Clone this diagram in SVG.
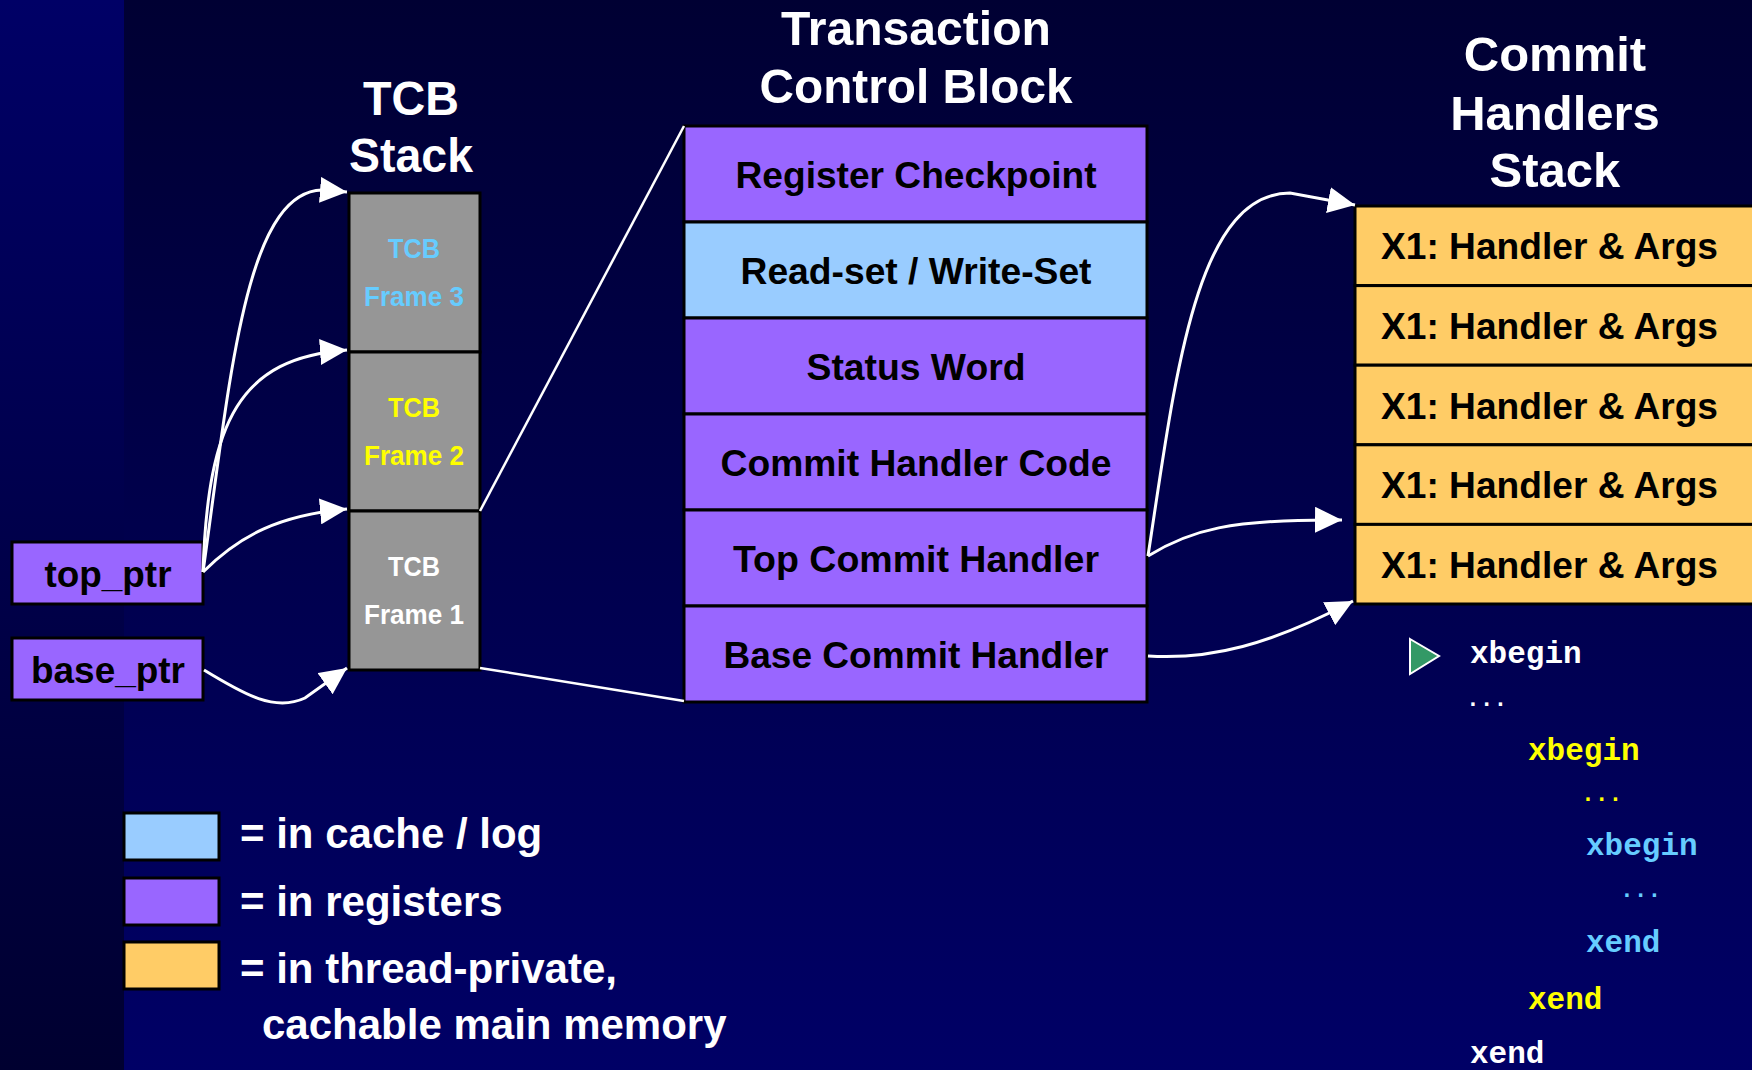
<svg xmlns="http://www.w3.org/2000/svg" width="1752" height="1070" viewBox="0 0 1752 1070">
<defs>
<linearGradient id="bgMain" x1="0" y1="0" x2="0" y2="1">
<stop offset="0" stop-color="#000033"/>
<stop offset="1" stop-color="#000066"/>
</linearGradient>
<linearGradient id="bgLeft" x1="0" y1="0" x2="0" y2="1">
<stop offset="0" stop-color="#000066"/>
<stop offset="1" stop-color="#000030"/>
</linearGradient>
<marker id="arrow" markerUnits="userSpaceOnUse" markerWidth="28" markerHeight="26" refX="27" refY="13" orient="auto">
<path d="M0,0 L27,13 L0,26 z" fill="#ffffff"/>
</marker>
</defs>
<style>
.bx{stroke:#000;stroke-width:3}
.pu{fill:#9966FF}
.lb{fill:#99CCFF}
.or{fill:#FFCC66}
.gr{fill:#969696}
.lbl{font-family:"Liberation Sans",Arial,sans-serif;font-weight:bold;fill:#000;font-size:36px;text-anchor:middle}
.hl{font-family:"Liberation Sans",Arial,sans-serif;font-weight:bold;fill:#000;font-size:36px}
.ttl{font-family:"Liberation Sans",Arial,sans-serif;font-weight:bold;fill:#fff;font-size:49px;text-anchor:middle}
.fr{font-family:"Liberation Sans",Arial,sans-serif;font-weight:bold;font-size:28px;text-anchor:middle}
.leg{font-family:"Liberation Sans",Arial,sans-serif;font-weight:bold;fill:#fff;font-size:42px}
.code{font-family:"Liberation Mono","Courier New",monospace;font-weight:bold;font-size:31px}
.dots{font-family:"Liberation Mono","Courier New",monospace;font-weight:bold;font-size:23px}
.conn{fill:none;stroke:#fff;stroke-width:3}
.ln{fill:none;stroke:#fff;stroke-width:2.5}
</style>
<rect x="0" y="0" width="1752" height="1070" fill="url(#bgMain)"/>
<rect x="0" y="0" width="124" height="1070" fill="url(#bgLeft)"/>

<g id="title-tcb-stack">
<text class="ttl" x="411" y="115" font-size="50" textLength="96" lengthAdjust="spacingAndGlyphs">TCB</text>
<text class="ttl" x="411" y="172" font-size="50" textLength="124" lengthAdjust="spacingAndGlyphs">Stack</text>
</g>
<g id="title-tcb">
<text class="ttl" x="916" y="45" textLength="270" lengthAdjust="spacingAndGlyphs">Transaction</text>
<text class="ttl" x="916" y="103" textLength="313" lengthAdjust="spacingAndGlyphs">Control Block</text>
</g>
<g id="title-chs">
<text class="ttl" x="1555" y="71">Commit</text>
<text class="ttl" x="1555" y="130">Handlers</text>
<text class="ttl" x="1555" y="187">Stack</text>
</g>

<g id="top_ptr">
<rect class="bx pu" x="12" y="542" width="191" height="62"/>
<text class="lbl" x="108" y="587" textLength="127" lengthAdjust="spacingAndGlyphs">top_ptr</text>
</g>
<g id="base_ptr">
<rect class="bx pu" x="12" y="638" width="191" height="62"/>
<text class="lbl" x="108" y="683" textLength="154" lengthAdjust="spacingAndGlyphs">base_ptr</text>
</g>

<g id="tcb-frame-3">
<rect class="bx gr" x="349" y="193" width="131" height="159"/>
<text class="fr" x="414" y="258" fill="#66CCFF" textLength="52" lengthAdjust="spacingAndGlyphs">TCB</text>
<text class="fr" x="414" y="306" fill="#66CCFF" textLength="100" lengthAdjust="spacingAndGlyphs">Frame 3</text>
</g>
<g id="tcb-frame-2">
<rect class="bx gr" x="349" y="352" width="131" height="159"/>
<text class="fr" x="414" y="417" fill="#FFFF00" textLength="52" lengthAdjust="spacingAndGlyphs">TCB</text>
<text class="fr" x="414" y="465" fill="#FFFF00" textLength="100" lengthAdjust="spacingAndGlyphs">Frame 2</text>
</g>
<g id="tcb-frame-1">
<rect class="bx gr" x="349" y="511" width="131" height="159"/>
<text class="fr" x="414" y="576" fill="#FFFFFF" textLength="52" lengthAdjust="spacingAndGlyphs">TCB</text>
<text class="fr" x="414" y="624" fill="#FFFFFF" textLength="100" lengthAdjust="spacingAndGlyphs">Frame 1</text>
</g>

<g id="tcb-register-checkpoint">
<rect class="bx pu" x="684" y="126" width="463" height="96"/>
<text class="lbl" x="916" y="188" textLength="361" lengthAdjust="spacingAndGlyphs">Register Checkpoint</text>
</g>
<g id="tcb-read-write-set">
<rect class="bx lb" x="684" y="222" width="463" height="96"/>
<text class="lbl" x="916" y="284" textLength="351" lengthAdjust="spacingAndGlyphs">Read-set / Write-Set</text>
</g>
<g id="tcb-status-word">
<rect class="bx pu" x="684" y="318" width="463" height="96"/>
<text class="lbl" x="916" y="380" textLength="219" lengthAdjust="spacingAndGlyphs">Status Word</text>
</g>
<g id="tcb-commit-handler-code">
<rect class="bx pu" x="684" y="414" width="463" height="96"/>
<text class="lbl" x="916" y="476" textLength="391" lengthAdjust="spacingAndGlyphs">Commit Handler Code</text>
</g>
<g id="tcb-top-commit-handler">
<rect class="bx pu" x="684" y="510" width="463" height="96"/>
<text class="lbl" x="916" y="572" textLength="366" lengthAdjust="spacingAndGlyphs">Top Commit Handler</text>
</g>
<g id="tcb-base-commit-handler">
<rect class="bx pu" x="684" y="606" width="463" height="96"/>
<text class="lbl" x="916" y="668" textLength="385" lengthAdjust="spacingAndGlyphs">Base Commit Handler</text>
</g>

<g id="handler-1">
<rect class="bx or" x="1355" y="206" width="410" height="79.6"/>
<text class="hl" x="1381" y="259" textLength="337" lengthAdjust="spacingAndGlyphs">X1: Handler &amp; Args</text>
</g>
<g id="handler-2">
<rect class="bx or" x="1355" y="285.6" width="410" height="79.6"/>
<text class="hl" x="1381" y="339" textLength="337" lengthAdjust="spacingAndGlyphs">X1: Handler &amp; Args</text>
</g>
<g id="handler-3">
<rect class="bx or" x="1355" y="365.2" width="410" height="79.6"/>
<text class="hl" x="1381" y="419" textLength="337" lengthAdjust="spacingAndGlyphs">X1: Handler &amp; Args</text>
</g>
<g id="handler-4">
<rect class="bx or" x="1355" y="444.8" width="410" height="79.6"/>
<text class="hl" x="1381" y="498" textLength="337" lengthAdjust="spacingAndGlyphs">X1: Handler &amp; Args</text>
</g>
<g id="handler-5">
<rect class="bx or" x="1355" y="524.4" width="410" height="79.6"/>
<text class="hl" x="1381" y="578" textLength="337" lengthAdjust="spacingAndGlyphs">X1: Handler &amp; Args</text>
</g>

<g id="connectors">
<path class="conn" d="M203,572 C230,380 245,192 322,190 L347,192" marker-end="url(#arrow)"/>
<path class="conn" d="M203,572 C208,420 240,358 347,350" marker-end="url(#arrow)"/>
<path class="conn" d="M203,572 C240,535 280,515 347,509" marker-end="url(#arrow)"/>
<path class="conn" d="M204,670 C245,695 275,712 305,698 L347,668" marker-end="url(#arrow)"/>
<path class="ln" d="M480,511 L684,126"/>
<path class="ln" d="M480,668 L684,701"/>
<path class="conn" d="M1148,556 C1175,380 1195,193 1290,193 L1355,205" marker-end="url(#arrow)"/>
<path class="conn" d="M1148,556 C1190,530 1230,519 1342,520" marker-end="url(#arrow)"/>
<path class="conn" d="M1148,656 C1210,660 1270,645 1353,601" marker-end="url(#arrow)"/>
</g>

<g id="code">
<polygon points="1410,639 1439,656 1410,674" fill="#339966" stroke="#ffffff" stroke-width="2"/>
<text class="code" x="1470" y="663" fill="#ffffff">xbegin</text>
<text class="dots" x="1466" y="706" fill="#ffffff">...</text>
<text class="code" x="1528" y="760" fill="#FFFF00">xbegin</text>
<text class="dots" x="1581" y="801" fill="#FFFF00">...</text>
<text class="code" x="1586" y="855" fill="#66CCFF">xbegin</text>
<text class="dots" x="1620" y="897" fill="#66CCFF">...</text>
<text class="code" x="1586" y="952" fill="#66CCFF">xend</text>
<text class="code" x="1528" y="1009" fill="#FFFF00">xend</text>
<text class="code" x="1470" y="1063" fill="#ffffff">xend</text>
</g>

<g id="legend">
<rect class="bx lb" x="124" y="813" width="95" height="47"/>
<text class="leg" x="240" y="848">= in cache / log</text>
<rect class="bx pu" x="124" y="878" width="95" height="47"/>
<text class="leg" x="240" y="916">= in registers</text>
<rect class="bx or" x="124" y="942" width="95" height="47"/>
<text class="leg" x="240" y="983">= in thread-private,</text>
<text class="leg" x="262" y="1039">cachable main memory</text>
</g>
</svg>
